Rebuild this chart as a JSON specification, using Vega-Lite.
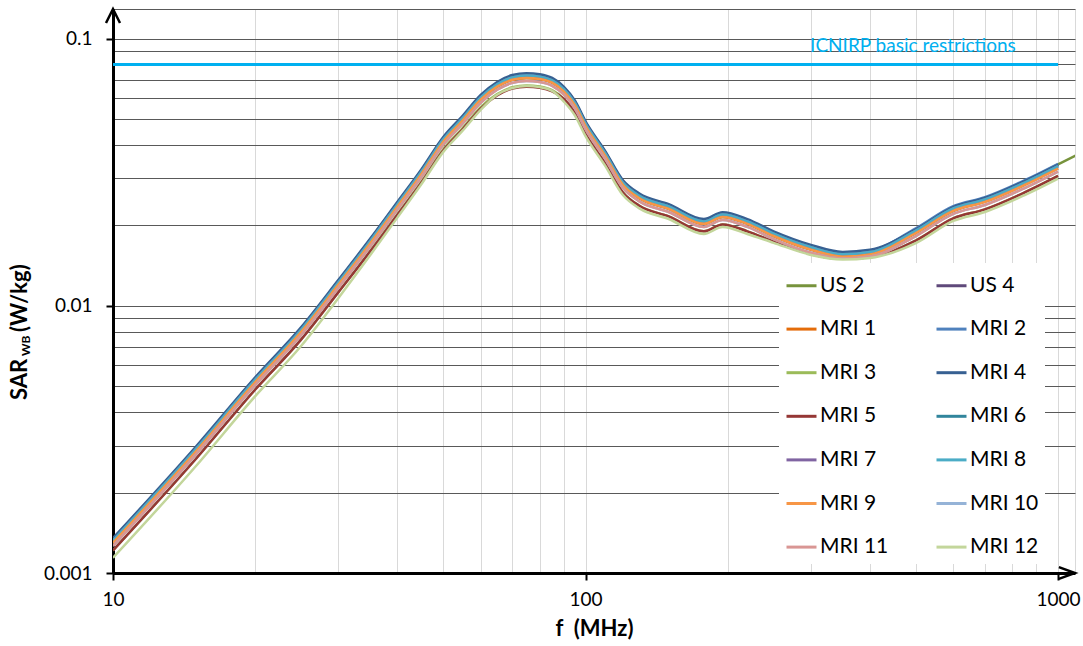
{
  "$schema": "https://vega.github.io/schema/vega-lite/v6.json",
  "width": 962,
  "height": 564,
  "autosize": {"type": "none"},
  "padding": {"left": 113, "top": 9, "right": 8, "bottom": 73},
  "background": "#ffffff",
  "config": {
    "font": "Lato",
    "view": {"stroke": "#d9d9d9", "strokeWidth": 1},
    "axis": {
      "domainColor": "#000000",
      "domainWidth": 3,
      "tickColor": "#000000",
      "tickWidth": 2,
      "tickSize": 7,
      "labelColor": "#000000",
      "labelFont": "Lato",
      "labelFontSize": 19,
      "labelFlush": false,
      "labelOverlap": false,
      "labelBound": false,
      "titleFont": "Lato",
      "titleColor": "#000000"
    }
  },
  "layer": [
    {
      "data": {
        "values": [
          {"s":"US 2","f":10,"v":0.001296},{"s":"US 2","f":15,"v":0.00286},{"s":"US 2","f":20,"v":0.00518},{"s":"US 2","f":25,"v":0.00797},{"s":"US 2","f":30,"v":0.012},{"s":"US 2","f":35,"v":0.01709},{"s":"US 2","f":40,"v":0.02352},{"s":"US 2","f":45,"v":0.0312},{"s":"US 2","f":50,"v":0.04109},{"s":"US 2","f":55,"v":0.04944},{"s":"US 2","f":60,"v":0.05904},{"s":"US 2","f":65,"v":0.06605},{"s":"US 2","f":70,"v":0.07008},{"s":"US 2","f":75,"v":0.07123},{"s":"US 2","f":80,"v":0.07056},{"s":"US 2","f":85,"v":0.06835},{"s":"US 2","f":90,"v":0.06336},{"s":"US 2","f":95,"v":0.05616},{"s":"US 2","f":100,"v":0.04704},{"s":"US 2","f":110,"v":0.03648},{"s":"US 2","f":120,"v":0.02832},{"s":"US 2","f":130,"v":0.02525},{"s":"US 2","f":150,"v":0.02304},{"s":"US 2","f":178,"v":0.02026},{"s":"US 2","f":195,"v":0.0215},{"s":"US 2","f":220,"v":0.02026},{"s":"US 2","f":250,"v":0.01824},{"s":"US 2","f":300,"v":0.01622},{"s":"US 2","f":350,"v":0.01526},{"s":"US 2","f":400,"v":0.01555},{"s":"US 2","f":500,"v":0.01872},{"s":"US 2","f":600,"v":0.02266},{"s":"US 2","f":700,"v":0.0248},{"s":"US 2","f":850,"v":0.0292},{"s":"US 2","f":1000,"v":0.0338},{"s":"US 2","f":1100,"v":0.0368},
          {"s":"US 4","f":10,"v":0.001337},{"s":"US 4","f":15,"v":0.00295},{"s":"US 4","f":20,"v":0.00535},{"s":"US 4","f":25,"v":0.00822},{"s":"US 4","f":30,"v":0.01238},{"s":"US 4","f":35,"v":0.01762},{"s":"US 4","f":40,"v":0.02426},{"s":"US 4","f":45,"v":0.03218},{"s":"US 4","f":50,"v":0.04237},{"s":"US 4","f":55,"v":0.05099},{"s":"US 4","f":60,"v":0.06089},{"s":"US 4","f":65,"v":0.06811},{"s":"US 4","f":70,"v":0.07227},{"s":"US 4","f":75,"v":0.07346},{"s":"US 4","f":80,"v":0.07277},{"s":"US 4","f":85,"v":0.07049},{"s":"US 4","f":90,"v":0.06534},{"s":"US 4","f":95,"v":0.05792},{"s":"US 4","f":100,"v":0.04851},{"s":"US 4","f":110,"v":0.03762},{"s":"US 4","f":120,"v":0.02921},{"s":"US 4","f":130,"v":0.02604},{"s":"US 4","f":150,"v":0.02376},{"s":"US 4","f":178,"v":0.02089},{"s":"US 4","f":195,"v":0.02218},{"s":"US 4","f":220,"v":0.02089},{"s":"US 4","f":250,"v":0.01881},{"s":"US 4","f":300,"v":0.01673},{"s":"US 4","f":350,"v":0.01574},{"s":"US 4","f":400,"v":0.01604},{"s":"US 4","f":500,"v":0.01931},{"s":"US 4","f":600,"v":0.02336},{"s":"US 4","f":700,"v":0.02525},{"s":"US 4","f":850,"v":0.02921},{"s":"US 4","f":1000,"v":0.03366},
          {"s":"MRI 1","f":10,"v":0.001296},{"s":"MRI 1","f":15,"v":0.00286},{"s":"MRI 1","f":20,"v":0.00518},{"s":"MRI 1","f":25,"v":0.00797},{"s":"MRI 1","f":30,"v":0.012},{"s":"MRI 1","f":35,"v":0.01709},{"s":"MRI 1","f":40,"v":0.02352},{"s":"MRI 1","f":45,"v":0.0312},{"s":"MRI 1","f":50,"v":0.04109},{"s":"MRI 1","f":55,"v":0.04944},{"s":"MRI 1","f":60,"v":0.05904},{"s":"MRI 1","f":65,"v":0.06605},{"s":"MRI 1","f":70,"v":0.07008},{"s":"MRI 1","f":75,"v":0.07123},{"s":"MRI 1","f":80,"v":0.07056},{"s":"MRI 1","f":85,"v":0.06835},{"s":"MRI 1","f":90,"v":0.06336},{"s":"MRI 1","f":95,"v":0.05616},{"s":"MRI 1","f":100,"v":0.04704},{"s":"MRI 1","f":110,"v":0.03648},{"s":"MRI 1","f":120,"v":0.02832},{"s":"MRI 1","f":130,"v":0.02525},{"s":"MRI 1","f":150,"v":0.02304},{"s":"MRI 1","f":178,"v":0.02026},{"s":"MRI 1","f":195,"v":0.0215},{"s":"MRI 1","f":220,"v":0.02026},{"s":"MRI 1","f":250,"v":0.01824},{"s":"MRI 1","f":300,"v":0.01622},{"s":"MRI 1","f":350,"v":0.01526},{"s":"MRI 1","f":400,"v":0.01555},{"s":"MRI 1","f":500,"v":0.01872},{"s":"MRI 1","f":600,"v":0.02266},{"s":"MRI 1","f":700,"v":0.02448},{"s":"MRI 1","f":850,"v":0.02832},{"s":"MRI 1","f":1000,"v":0.03264},
          {"s":"MRI 2","f":10,"v":0.001337},{"s":"MRI 2","f":15,"v":0.00295},{"s":"MRI 2","f":20,"v":0.00535},{"s":"MRI 2","f":25,"v":0.00822},{"s":"MRI 2","f":30,"v":0.01238},{"s":"MRI 2","f":35,"v":0.01762},{"s":"MRI 2","f":40,"v":0.02426},{"s":"MRI 2","f":45,"v":0.03218},{"s":"MRI 2","f":50,"v":0.04237},{"s":"MRI 2","f":55,"v":0.05099},{"s":"MRI 2","f":60,"v":0.06089},{"s":"MRI 2","f":65,"v":0.06811},{"s":"MRI 2","f":70,"v":0.07227},{"s":"MRI 2","f":75,"v":0.07346},{"s":"MRI 2","f":80,"v":0.07277},{"s":"MRI 2","f":85,"v":0.07049},{"s":"MRI 2","f":90,"v":0.06534},{"s":"MRI 2","f":95,"v":0.05792},{"s":"MRI 2","f":100,"v":0.04851},{"s":"MRI 2","f":110,"v":0.03762},{"s":"MRI 2","f":120,"v":0.02921},{"s":"MRI 2","f":130,"v":0.02604},{"s":"MRI 2","f":150,"v":0.02376},{"s":"MRI 2","f":178,"v":0.02089},{"s":"MRI 2","f":195,"v":0.02218},{"s":"MRI 2","f":220,"v":0.02089},{"s":"MRI 2","f":250,"v":0.01881},{"s":"MRI 2","f":300,"v":0.01673},{"s":"MRI 2","f":350,"v":0.01574},{"s":"MRI 2","f":400,"v":0.01604},{"s":"MRI 2","f":500,"v":0.0195},{"s":"MRI 2","f":600,"v":0.0236},{"s":"MRI 2","f":700,"v":0.0255},{"s":"MRI 2","f":850,"v":0.0295},{"s":"MRI 2","f":1000,"v":0.034},
          {"s":"MRI 3","f":10,"v":0.001215},{"s":"MRI 3","f":15,"v":0.002682},{"s":"MRI 3","f":20,"v":0.00486},{"s":"MRI 3","f":25,"v":0.00747},{"s":"MRI 3","f":30,"v":0.01125},{"s":"MRI 3","f":35,"v":0.01602},{"s":"MRI 3","f":40,"v":0.02205},{"s":"MRI 3","f":45,"v":0.02925},{"s":"MRI 3","f":50,"v":0.03852},{"s":"MRI 3","f":55,"v":0.04635},{"s":"MRI 3","f":60,"v":0.05535},{"s":"MRI 3","f":65,"v":0.06192},{"s":"MRI 3","f":70,"v":0.0657},{"s":"MRI 3","f":75,"v":0.06678},{"s":"MRI 3","f":80,"v":0.06615},{"s":"MRI 3","f":85,"v":0.06408},{"s":"MRI 3","f":90,"v":0.0594},{"s":"MRI 3","f":95,"v":0.05265},{"s":"MRI 3","f":100,"v":0.0441},{"s":"MRI 3","f":110,"v":0.0342},{"s":"MRI 3","f":120,"v":0.02655},{"s":"MRI 3","f":130,"v":0.02367},{"s":"MRI 3","f":150,"v":0.0216},{"s":"MRI 3","f":178,"v":0.01899},{"s":"MRI 3","f":195,"v":0.02016},{"s":"MRI 3","f":220,"v":0.01899},{"s":"MRI 3","f":250,"v":0.0174},{"s":"MRI 3","f":300,"v":0.0156},{"s":"MRI 3","f":350,"v":0.015},{"s":"MRI 3","f":400,"v":0.0152},{"s":"MRI 3","f":500,"v":0.01755},{"s":"MRI 3","f":600,"v":0.02124},{"s":"MRI 3","f":700,"v":0.02295},{"s":"MRI 3","f":850,"v":0.02655},{"s":"MRI 3","f":1000,"v":0.0306},
          {"s":"MRI 4","f":10,"v":0.00135},{"s":"MRI 4","f":15,"v":0.00298},{"s":"MRI 4","f":20,"v":0.0054},{"s":"MRI 4","f":25,"v":0.0083},{"s":"MRI 4","f":30,"v":0.0125},{"s":"MRI 4","f":35,"v":0.0178},{"s":"MRI 4","f":40,"v":0.0245},{"s":"MRI 4","f":45,"v":0.0325},{"s":"MRI 4","f":50,"v":0.0428},{"s":"MRI 4","f":55,"v":0.0515},{"s":"MRI 4","f":60,"v":0.0615},{"s":"MRI 4","f":65,"v":0.0688},{"s":"MRI 4","f":70,"v":0.073},{"s":"MRI 4","f":75,"v":0.0742},{"s":"MRI 4","f":80,"v":0.0735},{"s":"MRI 4","f":85,"v":0.0712},{"s":"MRI 4","f":90,"v":0.066},{"s":"MRI 4","f":95,"v":0.0585},{"s":"MRI 4","f":100,"v":0.049},{"s":"MRI 4","f":110,"v":0.038},{"s":"MRI 4","f":120,"v":0.0295},{"s":"MRI 4","f":130,"v":0.0263},{"s":"MRI 4","f":150,"v":0.024},{"s":"MRI 4","f":178,"v":0.0211},{"s":"MRI 4","f":195,"v":0.0224},{"s":"MRI 4","f":220,"v":0.0211},{"s":"MRI 4","f":250,"v":0.019},{"s":"MRI 4","f":300,"v":0.0169},{"s":"MRI 4","f":350,"v":0.0159},{"s":"MRI 4","f":400,"v":0.0162},{"s":"MRI 4","f":500,"v":0.0193},{"s":"MRI 4","f":600,"v":0.0234},{"s":"MRI 4","f":700,"v":0.0253},{"s":"MRI 4","f":850,"v":0.0293},{"s":"MRI 4","f":1000,"v":0.0337},
          {"s":"MRI 5","f":10,"v":0.001215},{"s":"MRI 5","f":15,"v":0.002682},{"s":"MRI 5","f":20,"v":0.00486},{"s":"MRI 5","f":25,"v":0.00747},{"s":"MRI 5","f":30,"v":0.01125},{"s":"MRI 5","f":35,"v":0.01595},{"s":"MRI 5","f":40,"v":0.0219},{"s":"MRI 5","f":45,"v":0.029},{"s":"MRI 5","f":50,"v":0.0381},{"s":"MRI 5","f":55,"v":0.0458},{"s":"MRI 5","f":60,"v":0.0547},{"s":"MRI 5","f":65,"v":0.0612},{"s":"MRI 5","f":70,"v":0.065},{"s":"MRI 5","f":75,"v":0.066},{"s":"MRI 5","f":80,"v":0.0654},{"s":"MRI 5","f":85,"v":0.0634},{"s":"MRI 5","f":90,"v":0.0594},{"s":"MRI 5","f":95,"v":0.05265},{"s":"MRI 5","f":100,"v":0.0441},{"s":"MRI 5","f":110,"v":0.0342},{"s":"MRI 5","f":120,"v":0.02655},{"s":"MRI 5","f":130,"v":0.02367},{"s":"MRI 5","f":150,"v":0.0216},{"s":"MRI 5","f":178,"v":0.01899},{"s":"MRI 5","f":195,"v":0.02016},{"s":"MRI 5","f":220,"v":0.01899},{"s":"MRI 5","f":250,"v":0.0174},{"s":"MRI 5","f":300,"v":0.0156},{"s":"MRI 5","f":350,"v":0.015},{"s":"MRI 5","f":400,"v":0.0152},{"s":"MRI 5","f":500,"v":0.01755},{"s":"MRI 5","f":600,"v":0.02124},{"s":"MRI 5","f":700,"v":0.02295},{"s":"MRI 5","f":850,"v":0.02655},{"s":"MRI 5","f":1000,"v":0.0306},
          {"s":"MRI 6","f":10,"v":0.001323},{"s":"MRI 6","f":15,"v":0.00292},{"s":"MRI 6","f":20,"v":0.00529},{"s":"MRI 6","f":25,"v":0.00813},{"s":"MRI 6","f":30,"v":0.01225},{"s":"MRI 6","f":35,"v":0.01744},{"s":"MRI 6","f":40,"v":0.02401},{"s":"MRI 6","f":45,"v":0.03185},{"s":"MRI 6","f":50,"v":0.04194},{"s":"MRI 6","f":55,"v":0.05047},{"s":"MRI 6","f":60,"v":0.06027},{"s":"MRI 6","f":65,"v":0.06742},{"s":"MRI 6","f":70,"v":0.07154},{"s":"MRI 6","f":75,"v":0.07272},{"s":"MRI 6","f":80,"v":0.07203},{"s":"MRI 6","f":85,"v":0.06978},{"s":"MRI 6","f":90,"v":0.06468},{"s":"MRI 6","f":95,"v":0.05733},{"s":"MRI 6","f":100,"v":0.04802},{"s":"MRI 6","f":110,"v":0.03724},{"s":"MRI 6","f":120,"v":0.02891},{"s":"MRI 6","f":130,"v":0.02577},{"s":"MRI 6","f":150,"v":0.02352},{"s":"MRI 6","f":178,"v":0.02068},{"s":"MRI 6","f":195,"v":0.02195},{"s":"MRI 6","f":220,"v":0.02068},{"s":"MRI 6","f":250,"v":0.01862},{"s":"MRI 6","f":300,"v":0.01656},{"s":"MRI 6","f":350,"v":0.01558},{"s":"MRI 6","f":400,"v":0.01588},{"s":"MRI 6","f":500,"v":0.01911},{"s":"MRI 6","f":600,"v":0.02313},{"s":"MRI 6","f":700,"v":0.02499},{"s":"MRI 6","f":850,"v":0.02891},{"s":"MRI 6","f":1000,"v":0.03332},
          {"s":"MRI 7","f":10,"v":0.001323},{"s":"MRI 7","f":15,"v":0.00292},{"s":"MRI 7","f":20,"v":0.00529},{"s":"MRI 7","f":25,"v":0.00813},{"s":"MRI 7","f":30,"v":0.01225},{"s":"MRI 7","f":35,"v":0.01744},{"s":"MRI 7","f":40,"v":0.02401},{"s":"MRI 7","f":45,"v":0.03185},{"s":"MRI 7","f":50,"v":0.04194},{"s":"MRI 7","f":55,"v":0.05047},{"s":"MRI 7","f":60,"v":0.06027},{"s":"MRI 7","f":65,"v":0.06742},{"s":"MRI 7","f":70,"v":0.07154},{"s":"MRI 7","f":75,"v":0.07272},{"s":"MRI 7","f":80,"v":0.07203},{"s":"MRI 7","f":85,"v":0.06978},{"s":"MRI 7","f":90,"v":0.06468},{"s":"MRI 7","f":95,"v":0.05733},{"s":"MRI 7","f":100,"v":0.04802},{"s":"MRI 7","f":110,"v":0.03724},{"s":"MRI 7","f":120,"v":0.02891},{"s":"MRI 7","f":130,"v":0.02577},{"s":"MRI 7","f":150,"v":0.02352},{"s":"MRI 7","f":178,"v":0.02068},{"s":"MRI 7","f":195,"v":0.02195},{"s":"MRI 7","f":220,"v":0.02068},{"s":"MRI 7","f":250,"v":0.01862},{"s":"MRI 7","f":300,"v":0.01656},{"s":"MRI 7","f":350,"v":0.01558},{"s":"MRI 7","f":400,"v":0.01588},{"s":"MRI 7","f":500,"v":0.01911},{"s":"MRI 7","f":600,"v":0.02313},{"s":"MRI 7","f":700,"v":0.02499},{"s":"MRI 7","f":850,"v":0.02891},{"s":"MRI 7","f":1000,"v":0.03332},
          {"s":"MRI 8","f":10,"v":0.001323},{"s":"MRI 8","f":15,"v":0.00292},{"s":"MRI 8","f":20,"v":0.00529},{"s":"MRI 8","f":25,"v":0.00813},{"s":"MRI 8","f":30,"v":0.01225},{"s":"MRI 8","f":35,"v":0.01744},{"s":"MRI 8","f":40,"v":0.02401},{"s":"MRI 8","f":45,"v":0.03185},{"s":"MRI 8","f":50,"v":0.04194},{"s":"MRI 8","f":55,"v":0.05047},{"s":"MRI 8","f":60,"v":0.06027},{"s":"MRI 8","f":65,"v":0.06742},{"s":"MRI 8","f":70,"v":0.07154},{"s":"MRI 8","f":75,"v":0.07272},{"s":"MRI 8","f":80,"v":0.07203},{"s":"MRI 8","f":85,"v":0.06978},{"s":"MRI 8","f":90,"v":0.06468},{"s":"MRI 8","f":95,"v":0.05733},{"s":"MRI 8","f":100,"v":0.04802},{"s":"MRI 8","f":110,"v":0.03724},{"s":"MRI 8","f":120,"v":0.02891},{"s":"MRI 8","f":130,"v":0.02577},{"s":"MRI 8","f":150,"v":0.02352},{"s":"MRI 8","f":178,"v":0.02068},{"s":"MRI 8","f":195,"v":0.02195},{"s":"MRI 8","f":220,"v":0.02068},{"s":"MRI 8","f":250,"v":0.01862},{"s":"MRI 8","f":300,"v":0.01656},{"s":"MRI 8","f":350,"v":0.01558},{"s":"MRI 8","f":400,"v":0.01588},{"s":"MRI 8","f":500,"v":0.01911},{"s":"MRI 8","f":600,"v":0.02313},{"s":"MRI 8","f":700,"v":0.02499},{"s":"MRI 8","f":850,"v":0.02891},{"s":"MRI 8","f":1000,"v":0.03332},
          {"s":"MRI 9","f":10,"v":0.001296},{"s":"MRI 9","f":15,"v":0.00286},{"s":"MRI 9","f":20,"v":0.00518},{"s":"MRI 9","f":25,"v":0.00797},{"s":"MRI 9","f":30,"v":0.012},{"s":"MRI 9","f":35,"v":0.01709},{"s":"MRI 9","f":40,"v":0.02352},{"s":"MRI 9","f":45,"v":0.0312},{"s":"MRI 9","f":50,"v":0.04109},{"s":"MRI 9","f":55,"v":0.04944},{"s":"MRI 9","f":60,"v":0.05904},{"s":"MRI 9","f":65,"v":0.06605},{"s":"MRI 9","f":70,"v":0.07008},{"s":"MRI 9","f":75,"v":0.07123},{"s":"MRI 9","f":80,"v":0.07056},{"s":"MRI 9","f":85,"v":0.06835},{"s":"MRI 9","f":90,"v":0.06336},{"s":"MRI 9","f":95,"v":0.05616},{"s":"MRI 9","f":100,"v":0.04704},{"s":"MRI 9","f":110,"v":0.03648},{"s":"MRI 9","f":120,"v":0.02832},{"s":"MRI 9","f":130,"v":0.02525},{"s":"MRI 9","f":150,"v":0.02304},{"s":"MRI 9","f":178,"v":0.02026},{"s":"MRI 9","f":195,"v":0.0215},{"s":"MRI 9","f":220,"v":0.02026},{"s":"MRI 9","f":250,"v":0.01824},{"s":"MRI 9","f":300,"v":0.01622},{"s":"MRI 9","f":350,"v":0.01526},{"s":"MRI 9","f":400,"v":0.01555},{"s":"MRI 9","f":500,"v":0.01872},{"s":"MRI 9","f":600,"v":0.02266},{"s":"MRI 9","f":700,"v":0.02448},{"s":"MRI 9","f":850,"v":0.02832},{"s":"MRI 9","f":1000,"v":0.03264},
          {"s":"MRI 10","f":10,"v":0.001262},{"s":"MRI 10","f":15,"v":0.002786},{"s":"MRI 10","f":20,"v":0.00505},{"s":"MRI 10","f":25,"v":0.00776},{"s":"MRI 10","f":30,"v":0.01169},{"s":"MRI 10","f":35,"v":0.01664},{"s":"MRI 10","f":40,"v":0.02291},{"s":"MRI 10","f":45,"v":0.03039},{"s":"MRI 10","f":50,"v":0.04002},{"s":"MRI 10","f":55,"v":0.04815},{"s":"MRI 10","f":60,"v":0.0575},{"s":"MRI 10","f":65,"v":0.06433},{"s":"MRI 10","f":70,"v":0.06826},{"s":"MRI 10","f":75,"v":0.06938},{"s":"MRI 10","f":80,"v":0.06872},{"s":"MRI 10","f":85,"v":0.06657},{"s":"MRI 10","f":90,"v":0.06171},{"s":"MRI 10","f":95,"v":0.0547},{"s":"MRI 10","f":100,"v":0.04582},{"s":"MRI 10","f":110,"v":0.03553},{"s":"MRI 10","f":120,"v":0.02758},{"s":"MRI 10","f":130,"v":0.02459},{"s":"MRI 10","f":150,"v":0.02244},{"s":"MRI 10","f":178,"v":0.01973},{"s":"MRI 10","f":195,"v":0.02094},{"s":"MRI 10","f":220,"v":0.01973},{"s":"MRI 10","f":250,"v":0.01777},{"s":"MRI 10","f":300,"v":0.0158},{"s":"MRI 10","f":350,"v":0.01502},{"s":"MRI 10","f":400,"v":0.01528},{"s":"MRI 10","f":500,"v":0.01823},{"s":"MRI 10","f":600,"v":0.02207},{"s":"MRI 10","f":700,"v":0.02384},{"s":"MRI 10","f":850,"v":0.02758},{"s":"MRI 10","f":1000,"v":0.03179},
          {"s":"MRI 11","f":10,"v":0.001262},{"s":"MRI 11","f":15,"v":0.002786},{"s":"MRI 11","f":20,"v":0.00505},{"s":"MRI 11","f":25,"v":0.00776},{"s":"MRI 11","f":30,"v":0.01169},{"s":"MRI 11","f":35,"v":0.01664},{"s":"MRI 11","f":40,"v":0.02291},{"s":"MRI 11","f":45,"v":0.03039},{"s":"MRI 11","f":50,"v":0.04002},{"s":"MRI 11","f":55,"v":0.04815},{"s":"MRI 11","f":60,"v":0.0575},{"s":"MRI 11","f":65,"v":0.06433},{"s":"MRI 11","f":70,"v":0.06826},{"s":"MRI 11","f":75,"v":0.06938},{"s":"MRI 11","f":80,"v":0.06872},{"s":"MRI 11","f":85,"v":0.06657},{"s":"MRI 11","f":90,"v":0.06171},{"s":"MRI 11","f":95,"v":0.0547},{"s":"MRI 11","f":100,"v":0.04582},{"s":"MRI 11","f":110,"v":0.03553},{"s":"MRI 11","f":120,"v":0.02758},{"s":"MRI 11","f":130,"v":0.02459},{"s":"MRI 11","f":150,"v":0.02244},{"s":"MRI 11","f":178,"v":0.01973},{"s":"MRI 11","f":195,"v":0.02094},{"s":"MRI 11","f":220,"v":0.01973},{"s":"MRI 11","f":250,"v":0.01777},{"s":"MRI 11","f":300,"v":0.0158},{"s":"MRI 11","f":350,"v":0.01502},{"s":"MRI 11","f":400,"v":0.01528},{"s":"MRI 11","f":500,"v":0.01823},{"s":"MRI 11","f":600,"v":0.02207},{"s":"MRI 11","f":700,"v":0.02384},{"s":"MRI 11","f":850,"v":0.02758},{"s":"MRI 11","f":1000,"v":0.03179},
          {"s":"MRI 12","f":10,"v":0.00114},{"s":"MRI 12","f":15,"v":0.00252},{"s":"MRI 12","f":20,"v":0.00459},{"s":"MRI 12","f":25,"v":0.00707},{"s":"MRI 12","f":30,"v":0.0107},{"s":"MRI 12","f":35,"v":0.01545},{"s":"MRI 12","f":40,"v":0.02142},{"s":"MRI 12","f":45,"v":0.0286},{"s":"MRI 12","f":50,"v":0.03766},{"s":"MRI 12","f":55,"v":0.04532},{"s":"MRI 12","f":60,"v":0.05412},{"s":"MRI 12","f":65,"v":0.0616},{"s":"MRI 12","f":70,"v":0.0653},{"s":"MRI 12","f":75,"v":0.0664},{"s":"MRI 12","f":80,"v":0.0658},{"s":"MRI 12","f":85,"v":0.0637},{"s":"MRI 12","f":90,"v":0.05808},{"s":"MRI 12","f":95,"v":0.05148},{"s":"MRI 12","f":100,"v":0.04312},{"s":"MRI 12","f":110,"v":0.03344},{"s":"MRI 12","f":120,"v":0.02596},{"s":"MRI 12","f":130,"v":0.02314},{"s":"MRI 12","f":150,"v":0.02112},{"s":"MRI 12","f":178,"v":0.01857},{"s":"MRI 12","f":195,"v":0.01971},{"s":"MRI 12","f":220,"v":0.01857},{"s":"MRI 12","f":250,"v":0.0172},{"s":"MRI 12","f":300,"v":0.0155},{"s":"MRI 12","f":350,"v":0.0149},{"s":"MRI 12","f":400,"v":0.0151},{"s":"MRI 12","f":500,"v":0.01716},{"s":"MRI 12","f":600,"v":0.02077},{"s":"MRI 12","f":700,"v":0.02244},{"s":"MRI 12","f":850,"v":0.02596},{"s":"MRI 12","f":1000,"v":0.02992}
        ]
      },
      "mark": {"type": "line", "interpolate": "monotone", "strokeWidth": 2.5, "clip": true},
      "encoding": {
        "x": {
          "field": "f",
          "type": "quantitative",
          "scale": {"type": "log", "domain": [10, 1086], "nice": false},
          "axis": {
            "title": "f\u00a0 (MHz)",
            "titleFontSize": 22,
            "titleFontWeight": "bold",
            "titlePadding": 9,
            "values": [10, 20, 30, 40, 50, 60, 70, 80, 90, 100, 200, 300, 400, 500, 600, 700, 800, 900, 1000],
            "format": "~g",
            "labelExpr": "datum.value == 10 || datum.value == 100 || datum.value == 1000 ? datum.label : ''",
            "tickOpacity": {"condition": {"test": "datum.value == 10 || datum.value == 100 || datum.value == 1000", "value": 1}, "value": 0},
            "labelPadding": 10,
            "grid": true,
            "gridColor": "#d9d9d9",
            "gridWidth": 1
          }
        },
        "y": {
          "field": "v",
          "type": "quantitative",
          "scale": {"type": "log", "domain": [0.001, 0.129], "nice": false},
          "axis": {
            "title": null,
            "values": [0.001, 0.002, 0.003, 0.004, 0.005, 0.006, 0.007, 0.008, 0.009, 0.01, 0.02, 0.03, 0.04, 0.05, 0.06, 0.07, 0.08, 0.09, 0.1, 0.129],
            "format": "~g",
            "labelExpr": "datum.value == 0.001 || datum.value == 0.01 || datum.value == 0.1 ? datum.label : ''",
            "tickOpacity": {"condition": {"test": "datum.value == 0.001 || datum.value == 0.01 || datum.value == 0.1", "value": 1}, "value": 0},
            "labelPadding": 14,
            "grid": true,
            "gridColor": "#595959",
            "gridWidth": 1
          }
        },
        "color": {
          "field": "s",
          "type": "nominal",
          "scale": {
            "domain": ["US 2", "US 4", "MRI 1", "MRI 2", "MRI 3", "MRI 4", "MRI 5", "MRI 6", "MRI 7", "MRI 8", "MRI 9", "MRI 10", "MRI 11", "MRI 12"],
            "range": ["#77933C", "#5F497A", "#E46C0A", "#4F81BD", "#9BBB59", "#376092", "#953735", "#31859C", "#8064A2", "#4BACC6", "#F79646", "#95B3D7", "#D99694", "#C3D69B"]
          },
          "legend": {
            "title": null,
            "orient": "none",
            "direction": "horizontal",
            "legendX": 666,
            "legendY": 254,
            "columns": 2,
            "symbolType": "stroke",
            "symbolSize": 900,
            "symbolStrokeWidth": 3,
            "labelFont": "Lato",
            "labelFontSize": 21,
            "labelColor": "#000000",
            "labelOffset": 2,
            "labelLimit": 0,
            "rowPadding": 16.6,
            "columnPadding": 41,
            "padding": 6,
            "fillColor": "#ffffff",
            "strokeColor": null
          }
        }
      }
    },
    {
      "data": {"values": [{}]},
      "mark": {"type": "rule", "color": "#00B0F0", "strokeWidth": 3},
      "encoding": {"x": {"datum": 10}, "x2": {"datum": 1000}, "y": {"datum": 0.08}}
    },
    {
      "data": {"values": [{}]},
      "mark": {"type": "text", "text": "ICNIRP basic restrictions", "font": "Lato", "fontSize": 19, "color": "#00B0F0", "align": "left", "baseline": "alphabetic"},
      "encoding": {"x": {"datum": 298.7}, "y": {"datum": 0.0894}}
    },
    {
      "data": {"values": [{}]},
      "mark": {"type": "text", "text": "SAR", "font": "Lato", "fontSize": 22, "fontWeight": "bold", "color": "#000000", "angle": 270, "align": "left", "baseline": "alphabetic", "dx": 173, "dy": -86},
      "encoding": {"x": {"datum": 10}, "y": {"datum": 0.001}}
    },
    {
      "data": {"values": [{}]},
      "mark": {"type": "text", "text": "WB", "font": "Lato", "fontSize": 12, "fontWeight": "bold", "color": "#000000", "angle": 270, "align": "left", "baseline": "alphabetic", "dx": 217, "dy": -83},
      "encoding": {"x": {"datum": 10}, "y": {"datum": 0.001}}
    },
    {
      "data": {"values": [{}]},
      "mark": {"type": "text", "text": "(W/kg)", "font": "Lato", "fontSize": 22, "fontWeight": "bold", "color": "#000000", "angle": 270, "align": "left", "baseline": "alphabetic", "dx": 241, "dy": -86},
      "encoding": {"x": {"datum": 10}, "y": {"datum": 0.001}}
    },
    {
      "data": {"values": [{}]},
      "mark": {"type": "point", "shape": "M -1 2 L 0 0 L 1 2", "size": 196, "filled": false, "stroke": "#000000", "strokeWidth": 2.5, "opacity": 1},
      "encoding": {"x": {"datum": 10}, "y": {"datum": 0.129}}
    },
    {
      "data": {"values": [{}]},
      "mark": {"type": "point", "shape": "M -2.3 -0.85 L 0 0 L -2.3 0.85", "size": 196, "filled": false, "stroke": "#000000", "strokeWidth": 2.5, "opacity": 1},
      "encoding": {"x": {"datum": 1086}, "y": {"datum": 0.001}}
    }
  ]
}
